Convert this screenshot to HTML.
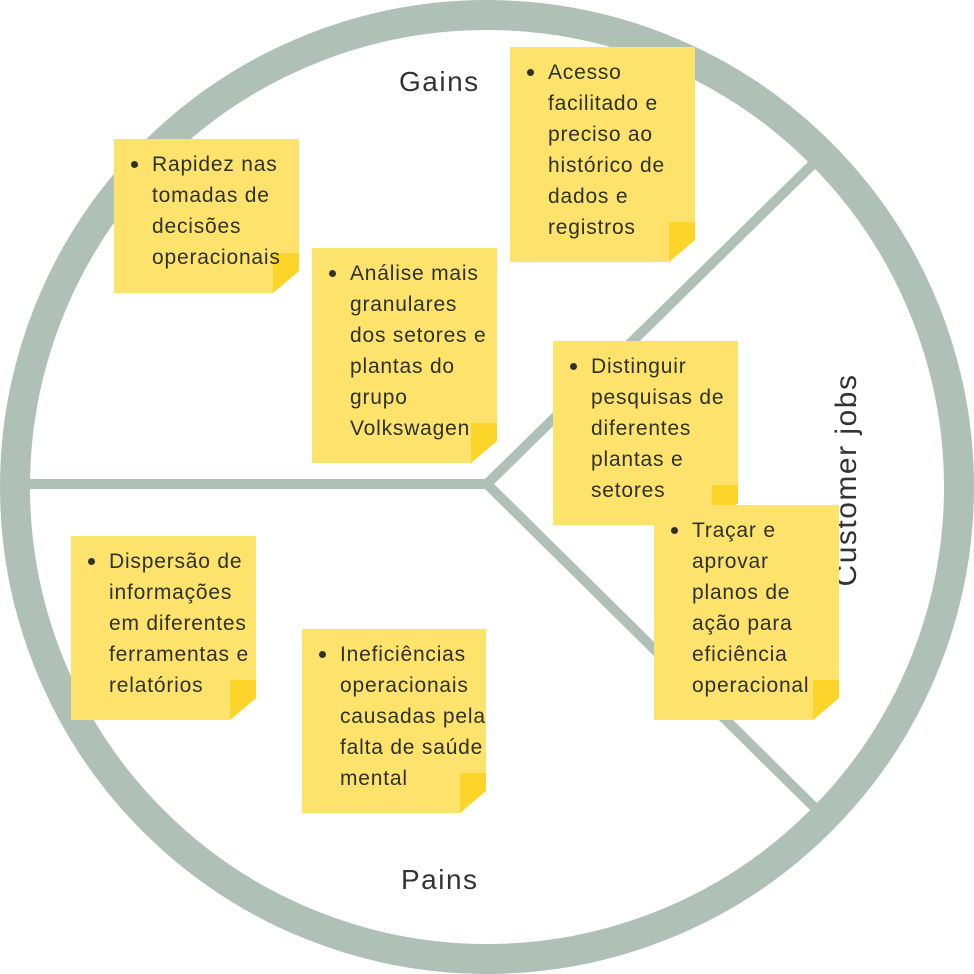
<!DOCTYPE html>
<html><head><meta charset="utf-8"><style>
body{margin:0;width:974px;height:974px;background:#fff;position:relative;overflow:hidden;font-family:"Liberation Sans","DejaVu Sans",sans-serif}
.n{position:absolute;}
.n .bg{position:absolute;left:0;top:0;right:0;bottom:0;background:#fde36b;clip-path:polygon(0 0,100% 0,100% calc(100% - 22px),calc(100% - 26px) 100%,0 100%)}
.n .f{position:absolute;right:0;bottom:0;width:26px;height:40px;background:#fdd42a;clip-path:polygon(0 0,100% 0,100% 18px,0 100%)}
.n .t{position:absolute;left:38px;top:10px;font-size:21px;letter-spacing:0.8px;line-height:31px;color:#2e3128;white-space:nowrap}
.n .b{position:absolute;left:17px;top:22px;width:7px;height:7px;border-radius:50%;background:#2e3128}
.lbl{position:absolute;font-size:28px;letter-spacing:1.5px;color:#333;}
</style></head><body>
<svg width="974" height="974" style="position:absolute;left:0;top:0">
<circle cx="487" cy="487" r="472" fill="none" stroke="#afc1b6" stroke-width="30"/>
<g stroke="#afc1b6" stroke-width="10" fill="none">
<line x1="25" y1="484" x2="487" y2="484"/>
<line x1="487" y1="484" x2="815" y2="162"/>
<line x1="487" y1="484" x2="815" y2="808"/>
</g>
</svg>
<div class="lbl" style="left:399px;top:66px">Gains</div>
<div class="lbl" style="left:401px;top:864px">Pains</div>
<div class="lbl" style="left:847px;top:480px;font-size:30px;transform:translate(-50%,-50%) rotate(-90deg);white-space:nowrap">Customer jobs</div>

<div class="n" style="left:114px;top:139px;width:185px;height:154px"><div class="bg"></div><div class="f"></div><div class="b"></div><div class="t">Rapidez nas<br>tomadas de<br>decisões<br>operacionais</div></div>
<div class="n" style="left:312px;top:248px;width:185px;height:215px"><div class="bg"></div><div class="f"></div><div class="b"></div><div class="t">Análise mais<br>granulares<br>dos setores e<br>plantas do<br>grupo<br>Volkswagen</div></div>
<div class="n" style="left:510px;top:47px;width:185px;height:215px"><div class="bg"></div><div class="f"></div><div class="b"></div><div class="t">Acesso<br>facilitado e<br>preciso ao<br>histórico de<br>dados e<br>registros</div></div>
<div class="n" style="left:553px;top:341px;width:185px;height:184px"><div class="bg"></div><div class="f"></div><div class="b"></div><div class="t">Distinguir<br>pesquisas de<br>diferentes<br>plantas e<br>setores</div></div>
<div class="n" style="left:654px;top:505px;width:185px;height:215px"><div class="bg"></div><div class="f"></div><div class="b"></div><div class="t">Traçar e<br>aprovar<br>planos de<br>ação para<br>eficiência<br>operacional</div></div>
<div class="n" style="left:71px;top:536px;width:185px;height:184px"><div class="bg"></div><div class="f"></div><div class="b"></div><div class="t">Dispersão de<br>informações<br>em diferentes<br>ferramentas e<br>relatórios</div></div>
<div class="n" style="left:302px;top:629px;width:184px;height:184px"><div class="bg"></div><div class="f"></div><div class="b"></div><div class="t">Ineficiências<br>operacionais<br>causadas pela<br>falta de saúde<br>mental</div></div>
</body></html>
